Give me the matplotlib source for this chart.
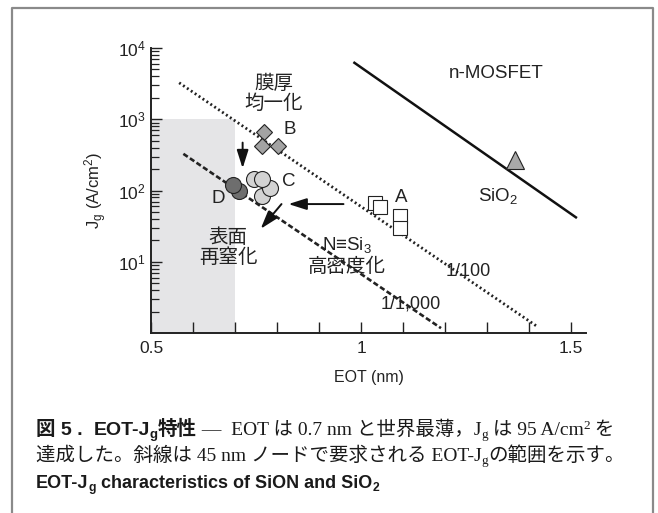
import matplotlib
matplotlib.use("Agg")
import matplotlib.pyplot as plt
from matplotlib.ticker import MultipleLocator, LogLocator, FixedLocator, NullFormatter
from matplotlib.transforms import IdentityTransform
from matplotlib.lines import Line2D

plt.rcParams['font.family'] = ['Liberation Sans', 'Noto Sans CJK JP']
plt.rcParams['mathtext.default'] = 'regular'

# data
ref100_eot = [0.567, 1.421]
ref100_jg = [3250, 1.21]
ref1000_eot = [0.577, 1.19]
ref1000_jg = [327, 1.17]
sio2_eot = [0.984, 1.511]
sio2_jg = [6200, 42]
tri_eot = [1.366]
tri_jg = [265]
a_eot = [1.032, 1.046, 1.092, 1.092]
a_jg = [66, 58, 43.6, 29.7]
b_eot = [0.770, 0.765, 0.801]
b_jg = [660, 420, 420]
c_eot = [0.763, 0.783, 0.744, 0.765]
c_jg = [85, 108, 145, 145]
d_eot = [0.7095, 0.696]
d_jg = [99, 120]
ytick_vals = [10, 100, 1000, 10000]
ytick_text = ['$10^{1}$', '$10^{2}$', '$10^{3}$', '$10^{4}$']

W, H = 658, 513
fig = plt.figure(figsize=(W / 100, H / 100), dpi=100)
ax = fig.add_axes([151 / W, 1 - 333 / H, (586 - 151) / W, (333 - 48) / H])

# target region (EOT < 0.7 nm, Jg < 1000)
ax.fill_between([0.5, 0.7], 1, 1000, color='#e5e5e7', lw=0, zorder=0)

ax.plot(ref100_eot, ref100_jg, color='#222222', lw=2.0, ls=(0, (0.7, 1.0)), zorder=2)
ax.plot(ref1000_eot, ref1000_jg, color='#222222', lw=1.9, ls=(0, (2.0, 1.0)), zorder=2)
ax.plot(sio2_eot, sio2_jg, color='#111111', lw=1.8, zorder=2)

mk = dict(ls='none', markeredgecolor='#222222', markeredgewidth=0.8, zorder=4)
ax.plot(tri_eot, tri_jg, marker='^', ms=13, markerfacecolor='#a9a9a9', **mk)
ax.plot(a_eot, a_jg, marker='s', ms=10.5, markerfacecolor='white', **mk)
ax.plot(b_eot, b_jg, marker='D', ms=8.5, markerfacecolor='#a3a3a3', **mk)
for x, y in zip(c_eot, c_jg):
    ax.plot([x], [y], marker='o', ms=11.5, markerfacecolor='#d3d3d3', **mk)
for x, y in zip(d_eot, d_jg):
    ax.plot([x], [y], marker='o', ms=11.5, markerfacecolor='#6e6e6e', **mk)

arw = dict(arrowstyle='-|>,head_length=1.1,head_width=0.35', color='#111111',
           lw=1.4, shrinkA=0, shrinkB=0)
ax.annotate('', xy=(0.718, 205), xytext=(0.718, 470), arrowprops=arw, zorder=5)
ax.annotate('', xy=(0.827, 64.5), xytext=(0.958, 64.5), arrowprops=arw, zorder=5)
ax.annotate('', xy=(0.761, 29), xytext=(0.8105, 64.5), arrowprops=arw, zorder=5)

ax.set_yscale('log')
ax.set_xlim(0.5, 1.535)
ax.set_ylim(1, 10000)

ax.xaxis.set_major_locator(FixedLocator([0.5, 1.0, 1.5]))
ax.set_xticklabels(['0.5', '1', '1.5'])
ax.xaxis.set_minor_locator(MultipleLocator(0.1))
ax.yaxis.set_major_locator(FixedLocator(ytick_vals))
ax.set_yticklabels(ytick_text)
ax.yaxis.set_minor_locator(LogLocator(base=10, subs=range(2, 10)))
ax.yaxis.set_minor_formatter(NullFormatter())

ax.tick_params(axis='both', which='both', direction='in', color='#222222',
               labelsize=12.5, labelcolor='#222222')
ax.tick_params(axis='x', which='both', length=8, width=1.0, pad=6)
ax.tick_params(axis='y', which='major', length=8, width=1.0, pad=4)
ax.tick_params(axis='y', which='minor', length=5.5, width=0.9)
for s in ['top', 'right']:
    ax.spines[s].set_visible(False)
for s in ['left', 'bottom']:
    ax.spines[s].set_linewidth(1.4)
    ax.spines[s].set_color('#222222')

ax.set_xlabel('EOT (nm)', fontsize=11.5, color='#222222', labelpad=10)
ax.set_ylabel('J$_g$ (A/cm$^2$)', fontsize=12, color='#222222', labelpad=6)

# annotations (placed in figure pixels, y measured from top)
def label(px, py, s, size=13, **kw):
    fig.text(px / W, 1 - py / H, s, fontsize=size, color='#222222',
             ha='center', va='center', linespacing=1.12, **kw)

label(496, 74, 'n-MOSFET', 13.5)
label(498, 196, 'SiO$_2$', 13.5)
label(274, 94, '膜厚\n均一化', 14)
label(290, 130, 'B', 13.5)
label(289, 182, 'C', 13.5)
label(218, 199, 'D', 13.5)
label(401, 197, 'A', 13.5)
label(228, 248, '表面\n再窒化', 14)
label(347, 245, 'N≡Si$_3$', 13.5)
label(347, 267, '高密度化', 14)
label(468, 272, '1/100', 13)
label(411, 304, '1/1,000', 13)

# outer frame (open at the bottom)
frame = Line2D([12, 12, 653, 653], [0, H - 8, H - 8, 0], transform=IdentityTransform(),
               color='#8a8a8a', lw=1.6)
fig.add_artist(frame)

# caption, built from runs so the sub/superscripts sit next to the text
renderer = fig.canvas.get_renderer()
bold = dict(family=['Liberation Sans', 'Noto Sans CJK JP'], weight='bold')
serif = dict(family=['Liberation Serif', 'Noto Sans CJK JP'])
sansb = dict(family=['Liberation Sans', 'Noto Sans CJK JP'], weight='semibold')

def runs(x, y, parts, size):
    y = H - y
    for text, props, pos in parts:
        fs = size * 0.68 if pos else size
        dy = {'sub': -3, 'sup': 6}.get(pos, 0)
        t = fig.text(x, y + dy, text, transform=IdentityTransform(),
                     fontsize=fs, color='#1a1a1a', va='baseline', ha='left', **props)
        x = t.get_window_extent(renderer).x1

runs(36, 435, [('図 5 .  ', bold, None), ('EOT-J', bold, None), ('g', bold, 'sub'),
               ('特性', bold, None), (' —  EOT は 0.7 nm と世界最薄，J', serif, None),
               ('g', serif, 'sub'), (' は 95 A/cm', serif, None), ('2', serif, 'sup'),
               (' を', serif, None)], 14)
runs(36, 461, [('達成した。斜線は 45 nm ノードで要求される EOT-J', serif, None),
               ('g', serif, 'sub'), ('の範囲を示す。', serif, None)], 14)
runs(36, 488, [('EOT-J', sansb, None), ('g', sansb, 'sub'),
               (' characteristics of SiON and SiO', sansb, None), ('2', sansb, 'sub')], 13)

fig.savefig('out.png', dpi=100)
